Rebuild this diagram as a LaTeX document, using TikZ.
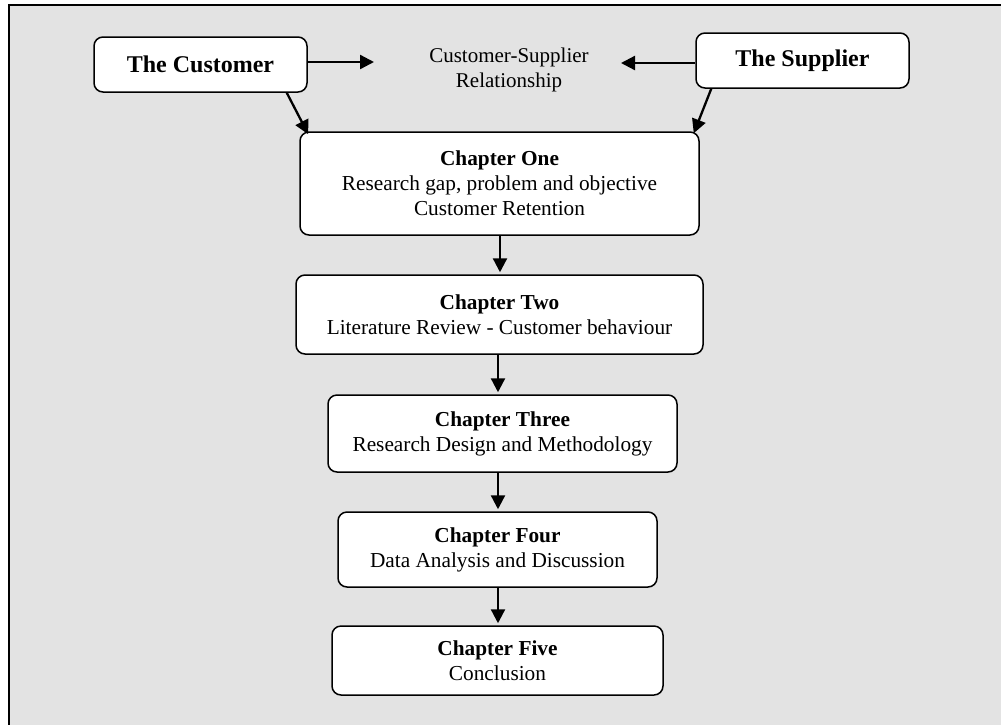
\documentclass[tikz,border=0pt]{standalone}
\usepackage{fontspec}
\setmainfont{Liberation Serif}
\usetikzlibrary{arrows.meta,calc}
\definecolor{bggray}{HTML}{E3E3E3}
\begin{document}
\begin{tikzpicture}[x=1pt,y=-1pt,
  box/.style={draw=black,line width=1.5pt,fill=white,rounded corners=9pt,
    align=center,inner sep=0pt,font=\fontsize{21.3}{25}\selectfont},
  topbox/.style={box,minimum width=213pt,minimum height=55pt,
    font=\fontsize{24}{28}\selectfont\bfseries},
  arr/.style={line width=2.3pt,-{Triangle[length=14pt,width=14pt]}},
  lbl/.style={align=center,font=\fontsize{21}{25}\selectfont}]
\useasboundingbox (0,0) rectangle (1001,724);
\draw[fill=bggray,line width=2pt] (9,1200) -- (9,5) -- (1200,5);
\fill[bggray] (10,6) rectangle (1100,1000);
\node[topbox] (cust) at (200.5,64.5) {The Customer};
\node[topbox] (supp) at (802.5,60.5) {The Supplier};
\node[lbl] (rel) at (509,70) {Customer-Supplier\\Relationship};
\node[box,minimum width=399pt,minimum height=103pt] (ch1) at (499.5,183.5)
  {\textbf{Chapter One}\\Research gap, problem and objective\\Customer Retention};
\node[box,minimum width=407pt,minimum height=79pt] (ch2) at (499.5,314.5)
  {\textbf{Chapter Two}\\Literature Review - Customer behaviour};
\node[box,minimum width=349pt,minimum height=77pt] (ch3) at (502.5,433.5)
  {\textbf{Chapter Three}\\Research Design and Methodology};
\node[box,minimum width=319pt,minimum height=75pt] (ch4) at (497.5,549.5)
  {\textbf{Chapter Four}\\Data Analysis and Discussion};
\node[box,minimum width=331pt,minimum height=69pt] (ch5) at (497.5,660.5)
  {\textbf{Chapter Five}\\Conclusion};
\coordinate (relL) at (374,62);
\coordinate (relR) at (621,63);
\draw[arr] ([yshift=2.5pt]cust.east) -- (relL);
\draw[arr] ([yshift=-2.5pt]supp.west) -- (relR);
\draw[arr] ([xshift=-21pt]cust.south east) -- ([xshift=9pt,yshift=-3pt]ch1.north west);
\draw[arr] ([xshift=16pt]supp.south west) -- ([xshift=-6pt,yshift=-2pt]ch1.north east);
\draw[arr] ([xshift=0.5pt]ch1.south) -- ([xshift=0.5pt,yshift=2pt]ch2.north);
\draw[arr] ([xshift=-1.5pt]ch2.south) -- ([xshift=-4.5pt,yshift=2pt]ch3.north);
\draw[arr] ([xshift=-4.5pt]ch3.south) -- ([xshift=0.5pt,yshift=2pt]ch4.north);
\draw[arr] ([xshift=0.5pt]ch4.south) -- ([xshift=0.5pt,yshift=2pt]ch5.north);
\end{tikzpicture}
\end{document}
